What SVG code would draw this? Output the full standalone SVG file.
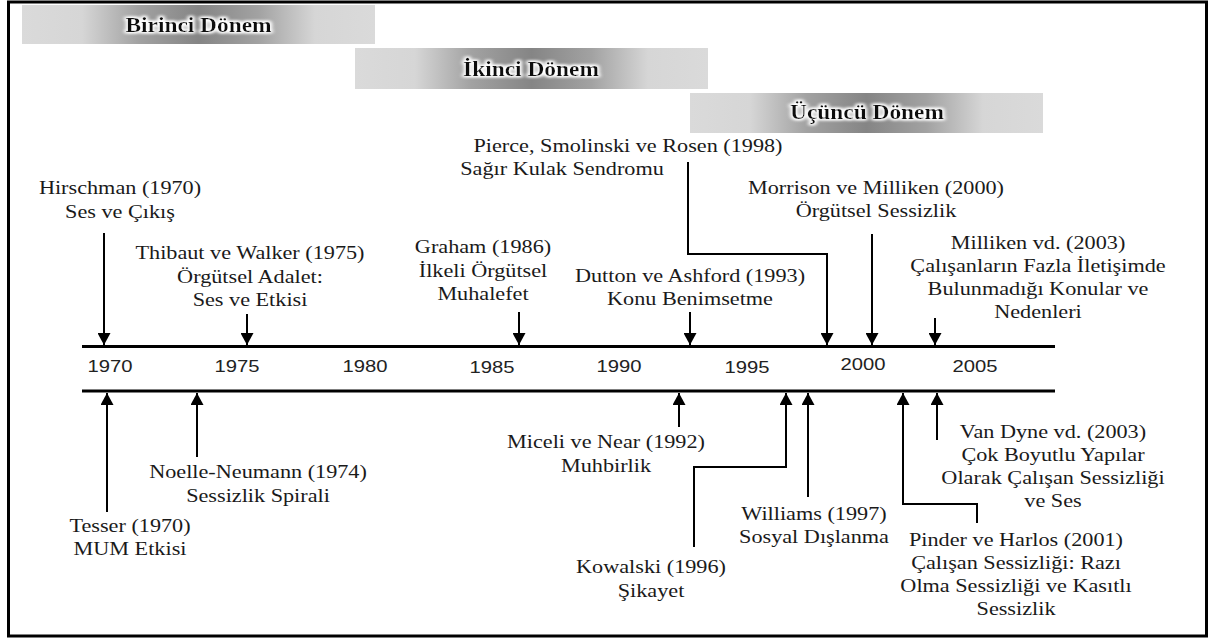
<svg xmlns="http://www.w3.org/2000/svg" width="1213" height="639" viewBox="0 0 1213 639">
<defs>
<style>
.lbl{font-family:"Liberation Serif","Times New Roman",serif;font-size:19px;fill:#1a1a1a;text-anchor:middle}
.yr{font-family:"Liberation Sans",Arial,sans-serif;font-size:17px;fill:#222;text-anchor:middle}
.ttl{font-family:"Liberation Serif","Times New Roman",serif;font-size:20px;font-weight:bold;fill:#111;text-anchor:middle}
.axis{stroke:#000;stroke-width:3;fill:none}
.con{stroke:#000;stroke-width:2;fill:none}
.dn{marker-end:url(#ah)}
.band{fill:url(#bg)}
</style>
<linearGradient id="bg" x1="0" y1="0" x2="1" y2="0">
<stop offset="0" stop-color="#dadada"/>
<stop offset="0.17" stop-color="#d6d6d6"/>
<stop offset="0.33" stop-color="#a2a2a2"/>
<stop offset="0.5" stop-color="#858585"/>
<stop offset="0.67" stop-color="#a2a2a2"/>
<stop offset="0.83" stop-color="#d6d6d6"/>
<stop offset="1" stop-color="#dadada"/>
</linearGradient>
<filter id="glow" x="-10%" y="-40%" width="120%" height="180%">
<feMorphology in="SourceAlpha" operator="dilate" radius="1.2" result="d"/>
<feGaussianBlur in="d" stdDeviation="1.6" result="b"/>
<feFlood flood-color="#ffffff"/>
<feComposite in2="b" operator="in" result="g"/>
<feMerge><feMergeNode in="g"/><feMergeNode in="g"/><feMergeNode in="SourceGraphic"/></feMerge>
</filter>
<marker id="ah" viewBox="0 0 12 13" refX="12" refY="6.5" markerWidth="12" markerHeight="13" markerUnits="userSpaceOnUse" orient="auto">
<path d="M0,0 L12,6.5 L0,13 z" fill="#000"/>
</marker>
</defs>
<rect x="0" y="0" width="1213" height="639" fill="#fff"/>
<rect x="8.5" y="2" width="1198" height="634" fill="none" stroke="#000" stroke-width="3"/>

<g id="period-1">
<rect class="band" x="22" y="5" width="353" height="39"/>
<g transform="translate(198.5 0) scale(1.17 1)"><text class="ttl" y="32" filter="url(#glow)">Birinci Dönem</text></g>
</g>
<g id="period-2">
<rect class="band" x="355" y="48" width="353" height="41"/>
<g transform="translate(531 0) scale(1.17 1)"><text class="ttl" y="76" filter="url(#glow)">İkinci Dönem</text></g>
</g>
<g id="period-3">
<rect class="band" x="690" y="93" width="353" height="40"/>
<g transform="translate(867 0) scale(1.17 1)"><text class="ttl" y="119" filter="url(#glow)">Üçüncü Dönem</text></g>
</g>

<g id="axis">
<line class="axis" x1="82" y1="346.5" x2="1055" y2="346.5"/>
<line class="axis" x1="82" y1="391" x2="1055" y2="391"/>
<g transform="translate(110 0) scale(1.19 1)"><text class="yr" y="372">1970</text></g>
<g transform="translate(237 0) scale(1.19 1)"><text class="yr" y="372">1975</text></g>
<g transform="translate(365 0) scale(1.19 1)"><text class="yr" y="372">1980</text></g>
<g transform="translate(492 0) scale(1.19 1)"><text class="yr" y="373">1985</text></g>
<g transform="translate(619 0) scale(1.19 1)"><text class="yr" y="372">1990</text></g>
<g transform="translate(747 0) scale(1.19 1)"><text class="yr" y="373">1995</text></g>
<g transform="translate(863 0) scale(1.19 1)"><text class="yr" y="370">2000</text></g>
<g transform="translate(975 0) scale(1.19 1)"><text class="yr" y="372">2005</text></g>
</g>

<g id="connectors">
<line class="con dn" x1="104" y1="233" x2="104" y2="345"/>
<line class="con dn" x1="247" y1="314" x2="247" y2="345"/>
<line class="con dn" x1="519" y1="312" x2="519" y2="345"/>
<line class="con dn" x1="690" y1="312" x2="690" y2="345"/>
<path class="con dn" d="M688,162 V254 H827 V345"/>
<line class="con dn" x1="872" y1="234" x2="872" y2="345"/>
<line class="con dn" x1="935" y1="318" x2="935" y2="345"/>
<line class="con dn" x1="107" y1="512" x2="107" y2="393"/>
<line class="con dn" x1="197" y1="457" x2="197" y2="393"/>
<line class="con dn" x1="679" y1="427" x2="679" y2="393"/>
<path class="con dn" d="M694,547 V467 H786 V393"/>
<line class="con dn" x1="808" y1="497" x2="808" y2="393"/>
<path class="con dn" d="M977,523 V504 H903 V393"/>
<line class="con dn" x1="937" y1="440" x2="937" y2="393"/>
</g>

<g id="n-hirschman" transform="translate(120 0) scale(1.17 1)">
<text class="lbl" y="194">Hirschman (1970)</text>
<text class="lbl" y="218">Ses ve Çıkış</text>
</g>
<g id="n-thibaut" transform="translate(250 0) scale(1.17 1)">
<text class="lbl" y="259">Thibaut ve Walker (1975)</text>
<text class="lbl" y="283">Örgütsel Adalet:</text>
<text class="lbl" y="306">Ses ve Etkisi</text>
</g>
<g id="n-graham" transform="translate(483 0) scale(1.17 1)">
<text class="lbl" y="253">Graham (1986)</text>
<text class="lbl" y="277">İlkeli Örgütsel</text>
<text class="lbl" y="300">Muhalefet</text>
</g>
<g id="n-dutton" transform="translate(690 0) scale(1.17 1)">
<text class="lbl" y="282">Dutton ve Ashford (1993)</text>
<text class="lbl" y="305">Konu Benimsetme</text>
</g>
<g id="n-pierce">
<g transform="translate(628 0) scale(1.17 1)"><text class="lbl" y="152">Pierce, Smolinski ve Rosen (1998)</text></g>
<g transform="translate(562 0) scale(1.17 1)"><text class="lbl" y="175">Sağır Kulak Sendromu</text></g>
</g>
<g id="n-morrison" transform="translate(876 0) scale(1.17 1)">
<text class="lbl" y="194">Morrison ve Milliken (2000)</text>
<text class="lbl" y="217">Örgütsel Sessizlik</text>
</g>
<g id="n-milliken" transform="translate(1038 0) scale(1.17 1)">
<text class="lbl" y="249">Milliken vd. (2003)</text>
<text class="lbl" y="272">Çalışanların Fazla İletişimde</text>
<text class="lbl" y="295">Bulunmadığı Konular ve</text>
<text class="lbl" y="318">Nedenleri</text>
</g>
<g id="n-tesser" transform="translate(130 0) scale(1.17 1)">
<text class="lbl" y="532">Tesser (1970)</text>
<text class="lbl" y="555">MUM Etkisi</text>
</g>
<g id="n-noelle" transform="translate(258 0) scale(1.17 1)">
<text class="lbl" y="478">Noelle-Neumann (1974)</text>
<text class="lbl" y="502">Sessizlik Spirali</text>
</g>
<g id="n-miceli" transform="translate(606 0) scale(1.17 1)">
<text class="lbl" y="448">Miceli ve Near (1992)</text>
<text class="lbl" y="472">Muhbirlik</text>
</g>
<g id="n-kowalski" transform="translate(651 0) scale(1.17 1)">
<text class="lbl" y="573">Kowalski (1996)</text>
<text class="lbl" y="597">Şikayet</text>
</g>
<g id="n-williams" transform="translate(814 0) scale(1.17 1)">
<text class="lbl" y="520">Williams (1997)</text>
<text class="lbl" y="543">Sosyal Dışlanma</text>
</g>
<g id="n-vandyne" transform="translate(1053 0) scale(1.17 1)">
<text class="lbl" y="438">Van Dyne vd. (2003)</text>
<text class="lbl" y="461">Çok Boyutlu Yapılar</text>
<text class="lbl" y="484">Olarak Çalışan Sessizliği</text>
<text class="lbl" y="507">ve Ses</text>
</g>
<g id="n-pinder" transform="translate(1016 0) scale(1.17 1)">
<text class="lbl" y="546">Pinder ve Harlos (2001)</text>
<text class="lbl" y="569">Çalışan Sessizliği: Razı</text>
<text class="lbl" y="592">Olma Sessizliği ve Kasıtlı</text>
<text class="lbl" y="615">Sessizlik</text>
</g>
</svg>
